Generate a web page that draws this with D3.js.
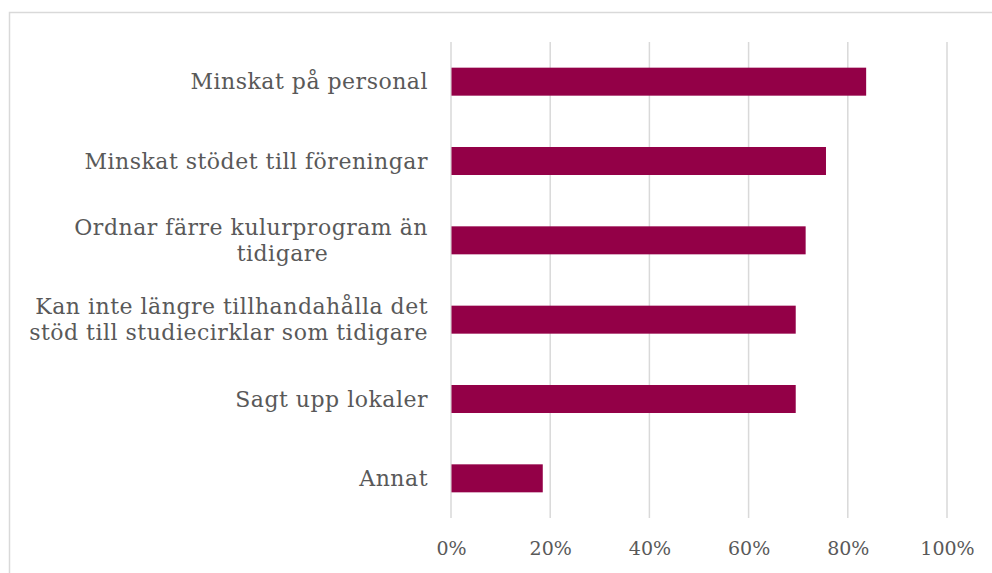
<!DOCTYPE html>
<html>
<head>
<meta charset="utf-8">
<script src="https://cdn.jsdelivr.net/npm/d3@7"></script>
<style>
  body { margin: 0; background: #fff; }
  svg { display: block; }
  text { font-family: "DejaVu Serif", serif; fill: #595959; }
</style>
</head>
<body>
<div id="chart"></div>
<script>
// categories top to bottom, each one split into the lines shown on the axis
var categories = [
  "Minskat på personal",
  "Minskat stödet till föreningar",
  "Ordnar färre kulurprogram än tidigare",
  "Kan inte längre tillhandahålla det stöd till studiecirklar som tidigare",
  "Sagt upp lokaler",
  "Annat"
];
var labelLines = [
  ["Minskat på personal"],
  ["Minskat stödet till föreningar"],
  ["Ordnar färre kulurprogram än", "tidigare"],
  ["Kan inte längre tillhandahålla det", "stöd till studiecirklar som tidigare"],
  ["Sagt upp lokaler"],
  ["Annat"]
];
var values = [0.836, 0.755, 0.714, 0.694, 0.694, 0.184];
var ticks = [0, 0.2, 0.4, 0.6, 0.8, 1.0];

var svgWidth = 992, svgHeight = 573;
var margin = {top: 42, right: 45, bottom: 55, left: 451};

var svg = d3.select("#chart").append("svg")
  .attr("width", svgWidth)
  .attr("height", svgHeight);

// outer frame (runs off the right and bottom edges in the original)
svg.append("rect")
  .attr("x", 9.5).attr("y", 12.5)
  .attr("width", svgWidth + 20).attr("height", svgHeight + 20)
  .attr("fill", "none")
  .attr("stroke", "#d9d9d9")
  .attr("stroke-width", 1.5);

var width = svgWidth - margin.left - margin.right;   // 496
var height = 476;

var g = svg.append("g").attr("transform", `translate(${margin.left},${margin.top})`);

var x = d3.scaleLinear().domain([0, 1]).range([0, width]);
var y = d3.scaleBand().domain(categories).range([0, height]).paddingInner(0.647).paddingOuter(0.3235);

// gridlines
g.selectAll("line.grid")
  .data(ticks)
  .enter().append("line")
  .attr("class", "grid")
  .attr("x1", d => x(d)).attr("x2", d => x(d))
  .attr("y1", 0).attr("y2", height)
  .attr("stroke", "#d9d9d9")
  .attr("stroke-width", 1.5);

// bars
g.selectAll("rect.bar")
  .data(values)
  .enter().append("rect")
  .attr("class", "bar")
  .attr("x", x(0) + 0.5)
  .attr("y", (d, i) => y(categories[i]))
  .attr("width", d => x(d) - x(0))
  .attr("height", y.bandwidth())
  .attr("fill", "#930047");

// x axis labels
var xAxis = d3.axisBottom(x).tickValues(ticks).tickFormat(d3.format(".0%")).tickSize(0).tickPadding(24);
var ax = g.append("g").attr("transform", `translate(0,${height})`).call(xAxis);
ax.select(".domain").remove();
ax.selectAll("text").style("font-size", "19px").attr("fill", "#595959").attr("font-family", "DejaVu Serif, serif");

// category labels, right aligned next to the plot
var labelRight = -23;
var lineGap = 26;
labelLines.forEach(function(lines, i) {
  var cy = y(categories[i]) + y.bandwidth() / 2;
  var t = g.append("text")
    .attr("text-anchor", "end")
    .style("font-size", "22px")
    .style("letter-spacing", "0.5px");
  lines.forEach(function(line, j) {
    // the short wrapped line sits roughly centred under the first one
    var short = lines.length > 1 && line.length < 12;
    t.append("tspan")
      .attr("x", short ? labelRight - 145.5 : labelRight)
      .attr("text-anchor", short ? "middle" : "end")
      .attr("y", cy + (j - (lines.length - 1) / 2) * lineGap)
      .attr("dy", "0.35em")
      .text(line);
  });
});
</script>
</body>
</html>
